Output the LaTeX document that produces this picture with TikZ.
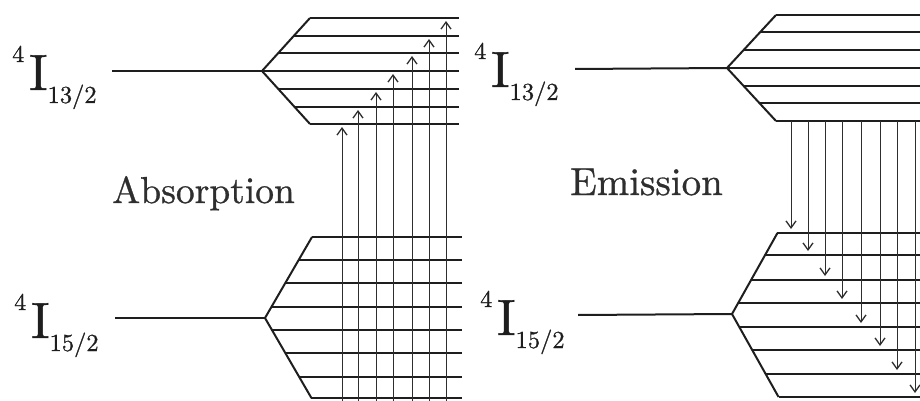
\documentclass[tikz,border=0pt]{standalone}
\usepackage{fontspec}
\setmainfont{lmroman10-regular.otf}[FakeBold=0.8]
\usetikzlibrary{arrows.meta}
\definecolor{ink}{HTML}{1E1E1E}
\definecolor{ink2}{HTML}{2E2E2E}
\newcommand{\termlabel}[1]{\raisebox{28pt}{\fontsize{24}{24}\selectfont 4}\kern5pt{\fontsize{51}{51}\selectfont I}\raisebox{-13pt}{\fontsize{24.5}{24.5}\selectfont #1}}
\tikzset{
  level/.style={line width=2pt, draw=ink, line join=miter},
  trans/.style={line width=1pt, draw=ink2, -{Straight Barb[length=7pt,width=10pt,line width=1.3pt]}},
  lbl/.style={inner sep=0pt, anchor=base west, text=ink},
  proc/.style={inner sep=0pt, anchor=base west, text=ink2}
}
\begin{document}
\begin{tikzpicture}[x=1pt,y=-1pt]
\useasboundingbox (0,0) rectangle (920,401);
% labels
\node[lbl] (labLU) at (12,90) {\termlabel{13/2}};
\node[lbl] (labLL) at (14,338) {\termlabel{15/2}};
\node[lbl] (labRU) at (474,87) {\termlabel{13/2}};
\node[lbl] (labRL) at (480,335) {\termlabel{15/2}};
\node[proc, font=\fontsize{37.5}{37.5}\selectfont] (abs) at (112,203) {Absorption};
\node[proc, font=\fontsize{39}{39}\selectfont] (emi) at (570,195) {Emission};
% left upper manifold
\coordinate (LUapex) at (262,71);
\coordinate (LUtail) at (112,71);
\foreach \y [count=\i] in {18,36,53,71,89,107,124}{
  \coordinate (LU\i s) at ({262+abs(\y-71)*48/53},\y);
  \coordinate (LU\i e) at (459,\y);
  \draw[level] (LU\i s) -- (LU\i e);
}
\draw[level] (LU1s) -- (LUapex) -- (LU7s);
\draw[level] (LUtail) -- (LUapex);
% left lower manifold
\coordinate (LLapex) at (265,318);
\coordinate (LLtail) at (115,318);
\foreach \y [count=\i] in {237,260,283,307,330,353,377,398}{
  \coordinate (LL\i s) at ({265+abs(\y-318)*47/81},\y);
  \coordinate (LL\i e) at (462,\y);
  \draw[level] (LL\i s) -- (LL\i e);
}
\draw[level] (LL1s) -- (LLapex) -- (LL8s);
\draw[level] (LLtail) -- (LLapex);
% right upper manifold
\coordinate (RUapex) at (727,68);
\coordinate (RUtail) at (575,69);
\foreach \y [count=\i] in {15,32,50,68,86,103,121}{
  \coordinate (RU\i s) at ({727+abs(\y-68)*49/53},\y);
  \coordinate (RU\i e) at (920,\y);
  \draw[level] (RU\i s) -- (RU\i e);
}
\draw[level] (RU1s) -- (RUapex) -- (RU7s);
\draw[level] (RUtail) -- (RUapex);
% right lower manifold
\coordinate (RLapex) at (732,314);
\coordinate (RLtail) at (578,315);
\foreach \y [count=\i] in {233,255,280,303,327,350,374,397}{
  \coordinate (RL\i s) at ({732+abs(\y-314)*46/82},\y);
  \coordinate (RL\i e) at (920,\y);
  \draw[level] (RL\i s) -- (RL\i e);
}
\draw[level] (RL1s) -- (RLapex) -- (RL8s);
\draw[level] (RLtail) -- (RLapex);
% absorption arrows
\foreach \x/\t [count=\i] in {342/124,358/107,376/89,393/71,412/53,429/36,446/18}{
  \coordinate (LA\i s) at (\x,401);
  \coordinate (LA\i e) at (\x,\t+3);
  \draw[trans] (LA\i s) -- (LA\i e);
}
% emission arrows
\foreach \x/\t [count=\i] in {791/233,808/255,825/280,842/303,861/327,880/350,897/374,915/397}{
  \coordinate (EA\i s) at (\x,121);
  \coordinate (EA\i e) at (\x,\t-4);
  \draw[trans] (EA\i s) -- (EA\i e);
}
\end{tikzpicture}
\end{document}
